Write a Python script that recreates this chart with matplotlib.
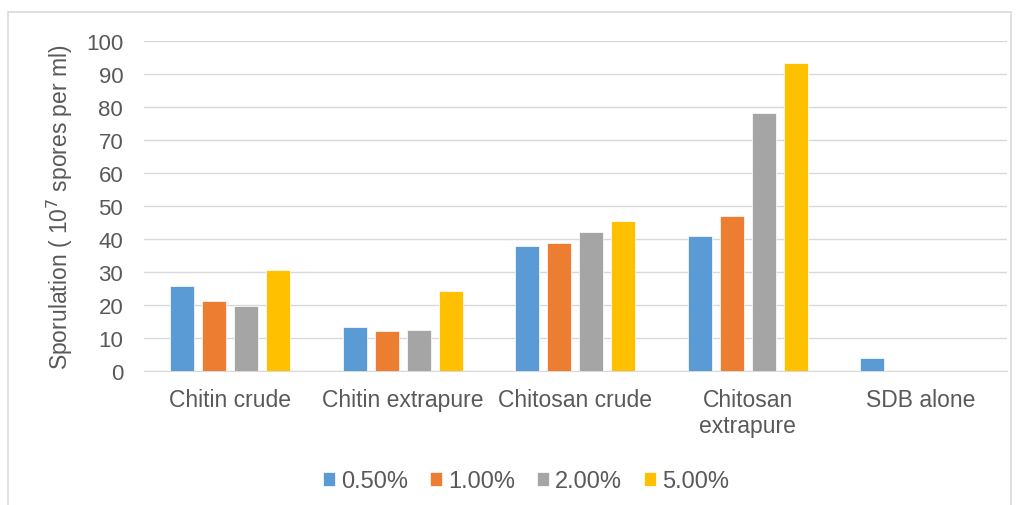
import numpy as np
import matplotlib
matplotlib.use("Agg")
import matplotlib.pyplot as plt
from matplotlib.patches import Rectangle

# donnees
categories = ["Chitin crude", "Chitin extrapure", "Chitosan crude", "Chitosan\nextrapure", "SDB alone"]
series_names = ["0.50%", "1.00%", "2.00%", "5.00%"]
conc_050 = [25.7, 13.5, 37.8, 41.1, 3.8]
conc_100 = [21.3, 12.0, 38.8, 46.9, 0]
conc_200 = [19.8, 12.4, 42.3, 78.4, 0]
conc_500 = [30.6, 24.2, 45.5, 93.3, 0]
colors = ["#5B9BD5", "#ED7D31", "#A5A5A5", "#FFC000"]

plt.rcParams['font.family'] = ['Liberation Sans', 'DejaVu Sans']
txt = "#595959"

fig = plt.figure(figsize=(10.21, 5.06), dpi=100)
ax = fig.add_axes([0.141, 0.2648, 0.8448, 0.6514])

# cadre gris autour du graphique
fig.patches.append(Rectangle((8 / 1021, -0.01), 1003 / 1021, 0.984, transform=fig.transFigure,
                             fill=False, edgecolor="#D9D9D9", linewidth=1.2))

x = np.arange(len(categories))
width = 0.139
pitch = 0.185
all_series = [conc_050, conc_100, conc_200, conc_500]
for i, (vals, col, name) in enumerate(zip(all_series, colors, series_names)):
    ax.bar(x + (i - 1.5) * pitch, vals, width, color=col, label=name,
           edgecolor="white", linewidth=0.5, zorder=3)

ax.set_xlim(-0.5, len(categories) - 0.5)
ax.set_ylim(0, 100)
ax.set_yticks(range(0, 101, 10))
ax.yaxis.grid(True, color="#D9D9D9", linewidth=1, zorder=0)
ax.set_axisbelow(True)
for s in ["top", "right", "left"]:
    ax.spines[s].set_visible(False)
ax.spines["bottom"].set_color("#D9D9D9")
ax.tick_params(axis="both", length=0, colors=txt)
ax.tick_params(axis="y", pad=15, labelsize=16)
ax.tick_params(axis="x", pad=12, labelsize=16.5)
ax.set_xticks(x)
ax.set_xticklabels(categories, va="top", linespacing=1.2)

ax.set_ylabel("Sporulation ( 10$^7$ spores per ml)", fontsize=16.5, color=txt, labelpad=8)

ax.legend(loc="center", bbox_to_anchor=(0.443, -0.335), ncol=4, frameon=False,
          fontsize=17, labelcolor=txt, handlelength=0.5, handleheight=0.5,
          handletextpad=0.25, columnspacing=0.95)

fig.savefig("out.png", dpi=100)
